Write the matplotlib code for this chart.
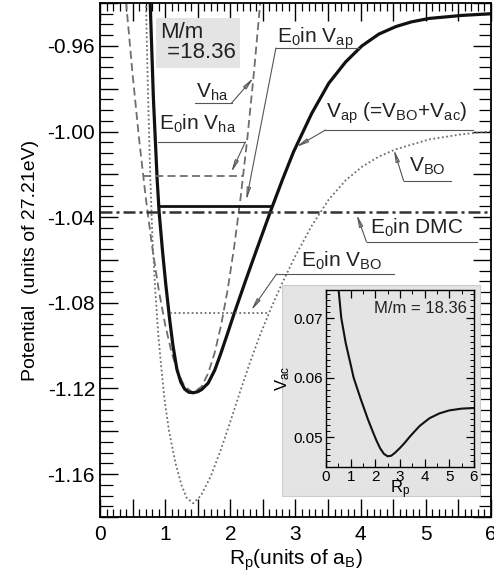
import numpy as np
import matplotlib
matplotlib.use('Agg')
import matplotlib.pyplot as plt
from matplotlib.ticker import MultipleLocator, FuncFormatter
from matplotlib.patches import Rectangle

plt.rcParams['font.family'] = ['Liberation Sans', 'DejaVu Sans']
plt.rcParams['mathtext.default'] = 'regular'
plt.rcParams['axes.unicode_minus'] = False

# ---- data ----
# Born-Oppenheimer potential V_BO (dotted)
r_bo = [0.705, 0.735, 0.77, 0.805, 0.85, 0.895, 0.94, 0.99, 1.06, 1.16, 1.25, 1.33, 1.43,
        1.55, 1.70, 1.85, 2.00, 2.15, 2.30, 2.45, 2.62, 2.80, 3.00, 3.25, 3.51, 3.77,
        4.02, 4.28, 4.54, 5.05, 5.55, 6.00]
v_bo = [-0.9394, -0.980, -1.020, -1.050, -1.075, -1.095, -1.110, -1.125, -1.140, -1.155,
        -1.165, -1.171, -1.1736, -1.1700, -1.1610, -1.1490, -1.1355, -1.1215, -1.1080,
        -1.0955, -1.0828, -1.0705, -1.0580, -1.0440, -1.0318, -1.0228, -1.0165, -1.0117,
        -1.0083, -1.0037, -1.0013, -0.9999]

# adiabatic potential V_ap = V_BO + V_ac (thick solid)
r_ap = [0.77, 0.82, 0.877, 0.908, 0.96, 1.01, 1.07, 1.12, 1.18, 1.24, 1.30, 1.36, 1.43,
        1.50, 1.56, 1.66, 1.76, 1.85, 1.95, 2.05, 2.23, 2.40, 2.62, 2.80, 2.97, 3.25,
        3.51, 3.77, 4.02, 4.28, 4.54, 4.78, 5.05, 5.55, 6.00]
v_ap = [-0.9394, -0.9848, -1.0223, -1.0378, -1.0560, -1.0715, -1.0880, -1.1000, -1.1110,
        -1.1170, -1.1203, -1.1217, -1.1220, -1.1215, -1.1205, -1.1175, -1.1115, -1.1040,
        -1.0950, -1.0858, -1.0700, -1.0555, -1.0370, -1.0225, -1.0095, -0.9915, -0.9775,
        -0.9675, -0.9600, -0.9545, -0.9510, -0.9488, -0.9472, -0.9458, -0.9450]

# harmonic approximation V_ha (dashed)
r_ha = [0.40, 0.50, 0.60, 0.70, 0.80, 0.90, 1.00, 1.10, 1.20, 1.30, 1.43,
        1.56, 1.66, 1.76, 1.86, 1.96, 2.06, 2.16, 2.26, 2.36, 2.46]
v_ha = [-0.9395, -0.9732, -1.0035, -1.0303, -1.0537, -1.0737, -1.0902, -1.1033, -1.1129,
        -1.1191, -1.1220, -1.1191, -1.1129, -1.1033, -1.0902, -1.0737, -1.0537, -1.0303,
        -1.0035, -0.9732, -0.9395]

# ground state energies and their extent in R_p
e0_ha, e0_ha_r = -1.021, (0.66, 2.20)
e0_ap, e0_ap_r = -1.0349, (0.90, 2.63)
e0_dmc = -1.0378
e0_bo, e0_bo_r = -1.0846, (1.08, 2.60)

# inset: V_ac
r_ac = [0.50, 0.62, 0.80, 1.00, 1.12, 1.40, 1.70, 1.90, 2.05, 2.20, 2.35, 2.50, 2.65,
        2.80, 3.00, 3.20, 3.42, 3.80, 4.20, 4.60, 5.00, 5.50, 6.00]
v_ac = [0.0752, 0.0700, 0.0658, 0.0622, 0.0600, 0.0565, 0.0530, 0.0509, 0.0494, 0.0481,
        0.0472, 0.0468, 0.0469, 0.0474, 0.0482, 0.0491, 0.0502, 0.0519, 0.0532, 0.0540,
        0.0545, 0.0548, 0.0549]

gray = '#6e6e6e'
lab_fs = 15

fig = plt.figure(figsize=(4.94, 5.81), dpi=100)
ax = fig.add_axes([0.2024, 0.1102, 0.7915, 0.8846])

ax.plot(r_bo, v_bo, color=gray, lw=1.3, ls=(0, (1, 1.4)))
ax.plot(r_ha, v_ha, color=gray, lw=1.3, ls=(0, (4.4, 2.4)))
ax.plot(r_ap, v_ap, color='#111111', lw=2.3, solid_capstyle='butt')

ax.hlines(e0_ha, *e0_ha_r, color=gray, lw=1.3, linestyles=[(0, (4.4, 2.4))])
ax.hlines(e0_bo, *e0_bo_r, color=gray, lw=1.3, linestyles=[(0, (1, 1.4))])
ax.hlines(e0_ap, *e0_ap_r, color='#111111', lw=2.0)
ax.axhline(e0_dmc, color='#333333', lw=1.8, ls=(0, (4.8, 1.6, 1.2, 1.6)))

ax.set_xlim(0, 6)
ax.set_ylim(-1.18, -0.94)

# ticks
ax.xaxis.set_major_locator(MultipleLocator(0.5))
ax.xaxis.set_minor_locator(MultipleLocator(0.1))
ax.xaxis.set_major_formatter(FuncFormatter(
    lambda v, p: f'{v:.0f}' if abs(v - round(v)) < 1e-6 else ''))
ax.yaxis.set_major_locator(MultipleLocator(0.02))
ax.yaxis.set_minor_locator(MultipleLocator(0.005))
ax.yaxis.set_major_formatter(FuncFormatter(
    lambda v, p: f'{v:.2f}' if abs(v / 0.04 - round(v / 0.04)) < 1e-6 else ''))
ax.tick_params(which='both', direction='in', top=True, right=True, labelsize=lab_fs)
ax.tick_params(which='major', length=13, width=1.0)
ax.tick_params(axis='x', which='major', pad=6)
ax.tick_params(axis='x', which='minor', length=6, width=0.9)
ax.tick_params(axis='y', which='minor', length=9, width=0.9)
for s in ax.spines.values():
    s.set_linewidth(1.3)

ax.set_xlabel('R$_p$(units of a$_B$)', fontsize=lab_fs, labelpad=2)
ax.set_ylabel('Potential  (units of 27.21eV)', fontsize=14, labelpad=6)

# mass ratio box
ax.text(0.93, -0.9490, 'M/m\n =18.36', fontsize=16, ha='left', va='top',
        linespacing=0.95, color='#222222',
        bbox=dict(boxstyle='square,pad=0.2', fc='#e4e4e4', ec='none'))

# labels with underline and leader arrow
labels = [
    ('E$_0$in V$_{ap}$', 2.71, -0.9585, (2.70, 3.97), -0.9610, 'left', (2.246, -1.032)),
    ('V$_{ha}$', 1.47, -0.9842, (1.46, 2.02), -0.9867, 'right', (2.354, -0.975)),
    ('E$_0$in V$_{ha}$', 0.90, -0.9990, (0.89, 2.23), -1.0049, 'right', (2.015, -1.019)),
    ('V$_{ap}$ (=V$_{BO}$+V$_{ac}$)', 3.47, -0.9935, (3.46, 5.72), -0.9993, 'left',
     (3.015, -1.0072)),
    ('V$_{BO}$', 4.74, -1.0190, (4.66, 5.38), -1.0231, 'left', (4.51, -1.0085)),
    ('E$_0$in DMC', 4.15, -1.0475, (4.09, 5.78), -1.0516, 'left', (3.94, -1.0388)),
    ('E$_0$in V$_{BO}$', 3.08, -1.0633, (2.71, 4.51), -1.0665, 'left', (2.32, -1.0835)),
]
for txt, tx, ty, (u0, u1), uy, side, tip in labels:
    ax.text(tx, ty, txt, fontsize=lab_fs, ha='left', va='baseline', color='#222222')
    ax.plot([u0, u1], [uy, uy], color='#555555', lw=0.8)
    start = (u0, uy) if side == 'left' else (u1, uy)
    ax.annotate('', xy=tip, xytext=start,
                arrowprops=dict(arrowstyle='-|>,head_length=0.7,head_width=0.12',
                                lw=0.8, color='#555555', fc='none',
                                shrinkA=0, shrinkB=0))

# inset background
ax.add_patch(Rectangle((282 / 494, 1 - 496 / 581), 198 / 494, 211 / 581,
                       transform=fig.transFigure, fc='#e4e4e4', ec='#cccccc',
                       lw=0.8, zorder=5, clip_on=False))

ins = fig.add_axes([0.6599, 0.1962, 0.2996, 0.3046], zorder=6)
ins.set_facecolor('#e4e4e4')
ins.plot(r_ac, v_ac, color='#111111', lw=1.5)
ins.set_xlim(0, 6)
ins.set_ylim(0.045, 0.0747)
ins.xaxis.set_major_locator(MultipleLocator(1))
ins.xaxis.set_minor_locator(MultipleLocator(0.5))
ins.yaxis.set_major_locator(MultipleLocator(0.01))
ins.yaxis.set_minor_locator(MultipleLocator(0.001))
ins.yaxis.set_major_formatter(FuncFormatter(lambda v, p: f'{v:.2f}'))
ins.tick_params(which='both', direction='in', top=True, right=True, labelsize=11,
                pad=2)
ins.tick_params(which='major', length=6, width=0.9)
ins.tick_params(which='minor', length=3, width=0.7)
ins.set_xlabel('R$_p$', fontsize=12, labelpad=-4)
ins.set_ylabel('V$_{ac}$', fontsize=12, labelpad=1)
ins.text(0.95, 0.94, 'M/m = 18.36', transform=ins.transAxes, fontsize=12,
         ha='right', va='top', color='#222222')
for s in ins.spines.values():
    s.set_linewidth(1.0)

fig.savefig('out.png', dpi=100)
